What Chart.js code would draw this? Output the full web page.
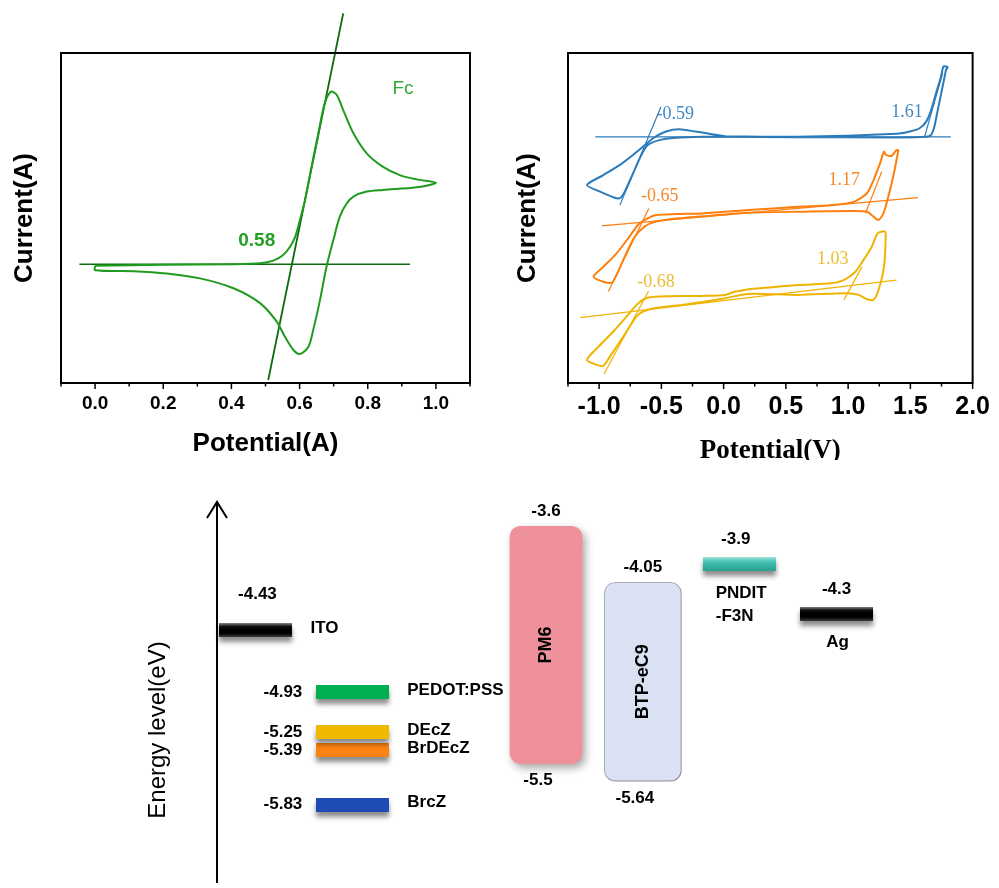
<!DOCTYPE html>
<html>
<head>
<meta charset="utf-8">
<script src="https://cdn.jsdelivr.net/npm/chart.js@4.4.1/dist/chart.umd.min.js"></script>
<style>
html,body{margin:0;padding:0;background:#fff;}
#wrap{position:relative;width:999px;height:888px;overflow:hidden;background:#fff;}
canvas{position:absolute;display:block;}
#fc{left:0;top:0;}
#cv{left:490px;top:0;}
#en{left:0;top:460px;}
</style>
</head>
<body>
<div id="wrap">
<canvas id="fc" width="490" height="460" style="width:490px;height:460px"></canvas>
<canvas id="cv" width="509" height="460" style="width:509px;height:460px"></canvas>
<canvas id="en" width="999" height="428" style="width:999px;height:428px"></canvas>
</div>
<script>
// ================= DATA =================
// Panel 1: ferrocene cyclic voltammogram (potential, arbitrary current units)
const fcPotential = [0, 0.21, 0.406, 0.484, 0.523, 0.552, 0.572, 0.587, 0.601, 0.616, 0.635, 0.655, 0.674, 0.692, 0.709, 0.728, 0.758, 0.797, 0.845, 0.894, 0.943, 1.0,
  0.943, 0.845, 0.797, 0.758, 0.738, 0.718, 0.699, 0.679, 0.660, 0.640, 0.626, 0.601, 0.582, 0.557, 0.533, 0.484, 0.406, 0.308, 0.210, 0.112, 0, 0];
const fcCurrent = [35.5, 35.8, 36.0, 36.3, 37.1, 38.8, 41.3, 44.3, 49.4, 55.5, 65.5, 75.7, 84.8, 88.3, 87.3, 82.7, 75.7, 69.6, 65.5, 63.0, 61.7, 60.7,
  59.3, 58.5, 58.0, 56.5, 54.4, 50.4, 43.3, 35.2, 25.2, 16.1, 11.0, 8.8, 10.0, 14.0, 18.6, 24.2, 28.7, 31.7, 33.2, 33.9, 34.2, 35.5];
const fcBaselinePotential = [-0.046, 0.924];
const fcBaselineCurrent = [36, 36];
const fcTangentPotential = [0.508, 0.728];
const fcTangentCurrent = [0.9, 112];
const fcOnset = 0.58;
const fcTickValues = [0, 0.2, 0.4, 0.6, 0.8, 1.0];

// Panel 2: CV of the three hole-transport materials
const brczPotential = [0.013, 0.595, 1.389, 1.495, 1.574, 1.627, 1.667, 1.706, 1.746, 1.765, 1.786, 1.799, 1.786, 1.759, 1.720, 1.693, 1.667, 1.627, 1.389, 0.595, 0.013,
  -0.172, -0.383, -0.516, -0.609, -0.661, -0.728, -0.794, -0.833, -0.886, -0.992, -1.098, -0.966, -0.833, -0.728, -0.648, -0.569, -0.463, -0.357, -0.225, -0.093, 0.013];
const brczCurrent = [74.8, 74.6, 75.5, 76.2, 77.2, 79.2, 82.7, 87.8, 92.8, 95.9, 95.9, 95.7, 94.8, 89.8, 82.7, 77.7, 75.2, 74.6, 74.4, 74.5, 74.6,
  74.6, 74.3, 73.6, 72.1, 69.1, 63.5, 58.0, 56.0, 56.3, 58.0, 60.0, 63.0, 66.1, 69.1, 71.6, 74.1, 76.2, 76.9, 76.2, 75.4, 74.8];
const brczBaselinePotential = [-1.03, 1.825];
const brczBaselineCurrent = [74.6, 74.6];
const brczRedTangentPotential = [-0.833, -0.503];
const brczRedTangentCurrent = [53.9, 83.7];
const brczOxTangentPotential = [1.614, 1.76];
const brczOxTangentCurrent = [74.6, 94.0];
const brczOnsets = [-0.59, 1.61];

const brdeczPotential = [0.198, 0.595, 0.860, 1.045, 1.151, 1.204, 1.257, 1.288, 1.304, 1.349, 1.384, 1.402, 1.394, 1.362, 1.323, 1.283, 1.244, 1.204, 1.151, 0.992, 0.595, 0.198,
  -0.040, -0.357, -0.542, -0.635, -0.714, -0.794, -0.860, -0.899, -0.966, -1.045, -0.966, -0.860, -0.767, -0.688, -0.609, -0.542, -0.384, -0.172, 0.198];
const brdeczCurrent = [52.4, 53.4, 53.9, 54.9, 57.5, 61.5, 66.6, 70.1, 69.1, 68.8, 70.4, 70.6, 68.6, 62.5, 56.5, 51.4, 49.4, 50.4, 51.9, 52.1, 51.9, 51.6,
  50.9, 49.9, 48.9, 47.4, 44.3, 38.3, 32.7, 30.4, 30.7, 32.2, 35.2, 39.3, 43.8, 47.9, 49.9, 50.9, 51.2, 51.4, 52.4];
const brdeczBaselinePotential = [-0.979, 1.561];
const brdeczBaselineCurrent = [47.6, 56.2];
const brdeczRedTangentPotential = [-0.926, -0.601];
const brdeczRedTangentCurrent = [27.7, 52.9];
const brdeczOxTangentPotential = [1.14, 1.27];
const brdeczOxTangentCurrent = [51.5, 64.0];
const brdeczOnsets = [-0.65, 1.17];

const deczPotential = [0.198, 0.595, 0.860, 0.966, 1.058, 1.124, 1.190, 1.238, 1.296, 1.302, 1.288, 1.244, 1.204, 1.151, 1.085, 0.992, 0.595, 0.198,
  0.013, -0.304, -0.569, -0.648, -0.701, -0.807, -0.913, -0.966, -1.018, -1.098, -0.992, -0.886, -0.780, -0.701, -0.622, -0.516, -0.172, 0.013, 0.093, 0.198];
const deczCurrent = [28.4, 29.7, 30.2, 31.2, 33.7, 37.3, 41.3, 45.4, 45.9, 44.3, 35.2, 28.2, 25.2, 25.4, 26.7, 27.2, 26.7, 27.0,
  25.7, 23.8, 22.6, 21.6, 20.1, 14.0, 8.0, 5.2, 5.5, 7.0, 11.5, 15.6, 20.1, 23.6, 25.7, 26.2, 26.4, 26.7, 27.7, 28.4];
const deczBaselinePotential = [-1.151, 1.389];
const deczBaselineCurrent = [19.8, 31.2];
const deczRedTangentPotential = [-0.960, -0.603];
const deczRedTangentCurrent = [2.7, 27.9];
const deczOxTangentPotential = [0.966, 1.111];
const deczOxTangentCurrent = [25.2, 35.2];
const deczOnsets = [-0.68, 1.03];
const cvTickValues = [-1.0, -0.5, 0.0, 0.5, 1.0, 1.5, 2.0];

// Panel 3: energy level diagram (eV)
const diagramColumns = ['ITO', 'HTL', '', 'PM6', 'BTP-eC9', 'PNDIT-F3N', 'Ag'];
const levelNames = ['ITO', 'PEDOT:PSS', 'DEcZ', 'BrDEcZ', 'BrcZ', 'PNDIT-F3N', 'Ag'];
const levelColumns = ['ITO', 'HTL', 'HTL', 'HTL', 'HTL', 'PNDIT-F3N', 'Ag'];
const levelEnergies = [-4.43, -4.93, -5.25, -5.39, -5.83, -3.9, -4.3];
const boxNames = ['PM6', 'BTP-eC9'];
const boxLUMO = [-3.6, -4.05];
const boxHOMO = [-5.5, -5.64];

// ================= STYLE =================
const SANS = 'Arial, "Liberation Sans", Helvetica, sans-serif';
const SERIF = '"Times New Roman", "Liberation Serif", serif';
Chart.defaults.font.family = SANS;
Chart.defaults.color = '#000';

const pts = (xs, ys) => xs.map((x, i) => ({x: x, y: ys[i]}));
const interp = (xs, ys, x) => ys[0] + (ys[1] - ys[0]) * (x - xs[0]) / (xs[1] - xs[0]);

function lineDs(xs, ys, color, width, extra) {
  return Object.assign({data: pts(xs, ys), showLine: true, borderColor: color, backgroundColor: color,
    borderWidth: width, pointRadius: 0, fill: false, tension: 0}, extra || {});
}

function framePlugin(minorStep) {
  return {
    id: 'frame',
    afterDatasetsDraw(chart) {
      const {ctx, chartArea: a, scales: {x}} = chart;
      ctx.save();
      ctx.strokeStyle = '#000';
      ctx.lineWidth = 2;
      ctx.strokeRect(a.left, a.top, a.right - a.left, a.bottom - a.top);
      ctx.lineWidth = 1.5;
      const n = Math.round((x.max - x.min) / minorStep);
      for (let i = 0; i <= n; i++) {
        const v = x.min + i * minorStep;
        const px = x.getPixelForValue(v);
        const major = x.ticks.some(t => Math.abs(t.value - v) < 1e-6);
        ctx.beginPath();
        ctx.moveTo(px, a.bottom);
        ctx.lineTo(px, a.bottom + (major ? 6 : 3.5));
        ctx.stroke();
      }
      ctx.restore();
    }
  };
}

function txt(ctx, s, x, y, font, align, color) {
  ctx.font = font;
  ctx.fillStyle = color || '#000';
  ctx.textAlign = align || 'center';
  ctx.textBaseline = 'middle';
  ctx.fillText(s, x, y);
}

function axisOpts(min, max, tickVals, tickSize, titleText, titleFont, titlePad, xHeight) {
  return {
    type: 'linear', min: min, max: max,
    afterBuildTicks: s => { s.ticks = tickVals.map(v => ({value: v})); },
    afterFit: s => { s.height = xHeight; },
    grid: {display: false, drawTicks: false},
    border: {display: false},
    ticks: {font: {family: SANS, size: tickSize, weight: 'bold'}, color: '#000', padding: 9,
      maxRotation: 0, autoSkip: false, callback: v => Number(v).toFixed(1)},
    title: {display: true, text: titleText, font: titleFont, color: '#000', padding: titlePad}
  };
}
function yOpts(width, pad) {
  return {
    type: 'linear', min: 0, max: 100,
    afterFit: s => { s.width = width; },
    grid: {display: false, drawTicks: false}, border: {display: false},
    ticks: {display: false},
    title: {display: true, text: 'Current(A)', font: {family: SANS, size: 26, weight: 'bold'}, color: '#000', padding: {top: pad, bottom: 0}}
  };
}
const common = {responsive: false, animation: false, events: [], devicePixelRatio: 1,
  plugins: {legend: {display: false}, tooltip: {enabled: false}}};

// ================= PANEL 1 =================
const FC_CURVE = '#1f9c1f', FC_LINE = '#0d6a0d';
new Chart(document.getElementById('fc'), {
  type: 'scatter',
  data: {datasets: [
    lineDs(fcPotential, fcCurrent, FC_CURVE, 2, {tension: 0.3}),
    lineDs(fcBaselinePotential, fcBaselineCurrent, FC_LINE, 1.6),
    lineDs(fcTangentPotential, fcTangentCurrent, FC_LINE, 1.8, {clip: false})
  ]},
  options: Object.assign({}, common, {
    layout: {padding: {top: 53, right: 20, left: 0, bottom: 0}},
    scales: {
      x: axisOpts(-0.1, 1.1, fcTickValues, 19, 'Potential(A)', {family: SANS, size: 26, weight: 'bold'}, {top: 0, bottom: 1}, 77),
      y: yOpts(61, 9)
    }
  }),
  plugins: [framePlugin(0.1), {
    id: 'fcLabels',
    afterDatasetsDraw(chart) {
      const {ctx, chartArea: a, scales: {x, y}} = chart;
      const px = x.getPixelForValue(fcOnset), py = y.getPixelForValue(interp(fcBaselinePotential, fcBaselineCurrent, fcOnset));
      txt(ctx, fcOnset.toFixed(2), px - 36, py - 23, 'bold 19px ' + SANS, 'center', '#22a022');
      txt(ctx, 'Fc', a.left + 342, a.top + 36, '19px ' + SANS, 'center', '#33aa33');
    }
  }]
});

// ================= PANEL 2 =================
const BLUE = '#2b7bba', ORANGE = '#ff7f0e', GOLD = '#f0b400';
const cvSeries = [
  {c: BLUE, lab: '#3f88c5', loop: [brczPotential, brczCurrent], base: [brczBaselinePotential, brczBaselineCurrent],
    t1: [brczRedTangentPotential, brczRedTangentCurrent], t2: [brczOxTangentPotential, brczOxTangentCurrent], on: brczOnsets,
    off: [[25, -23], [-17, -25]]},
  {c: ORANGE, lab: '#f7882a', loop: [brdeczPotential, brdeczCurrent], base: [brdeczBaselinePotential, brdeczBaselineCurrent],
    t1: [brdeczRedTangentPotential, brdeczRedTangentCurrent], t2: [brdeczOxTangentPotential, brdeczOxTangentCurrent], on: brdeczOnsets,
    off: [[17, -26], [-25, -22]]},
  {c: GOLD, lab: '#e9bd2e', loop: [deczPotential, deczCurrent], base: [deczBaselinePotential, deczBaselineCurrent],
    t1: [deczRedTangentPotential, deczRedTangentCurrent], t2: [deczOxTangentPotential, deczOxTangentCurrent], on: deczOnsets,
    off: [[17, -28], [-19, -26]]}
];
const cvDatasets = [];
cvSeries.forEach(s => {
  cvDatasets.push(lineDs(s.loop[0], s.loop[1], s.c, 2, {tension: 0.25}));
  cvDatasets.push(lineDs(s.base[0], s.base[1], s.c, 1.2));
  cvDatasets.push(lineDs(s.t1[0], s.t1[1], s.c, 1.2));
  cvDatasets.push(lineDs(s.t2[0], s.t2[1], s.c, 1.2));
});
new Chart(document.getElementById('cv'), {
  type: 'scatter',
  data: {datasets: cvDatasets},
  options: Object.assign({}, common, {
    layout: {padding: {top: 53, right: 22, left: 0, bottom: 0}},
    scales: {
      x: axisOpts(-1.25, 2.0, cvTickValues, 25, 'Potential(V)', {family: SERIF, size: 27, weight: 'bold'}, {top: 0, bottom: -7}, 77),
      y: yOpts(78, 22)
    }
  }),
  plugins: [framePlugin(0.25), {
    id: 'cvLabels',
    afterDatasetsDraw(chart) {
      const {ctx, scales: {x, y}} = chart;
      cvSeries.forEach(s => {
        s.on.forEach((v, i) => {
          const px = x.getPixelForValue(v), py = y.getPixelForValue(interp(s.base[0], s.base[1], v));
          txt(ctx, v.toFixed(2), px + s.off[i][0], py + s.off[i][1], '18px ' + SERIF, 'center', s.lab);
        });
      });
    }
  }]
});

// ================= PANEL 3 =================
function levelImage(stops) {
  const c = document.createElement('canvas');
  c.width = 73; c.height = 14;
  const g = c.getContext('2d');
  const grad = g.createLinearGradient(0, 0, 0, 14);
  stops.forEach((col, i) => grad.addColorStop(stops.length > 1 ? i / (stops.length - 1) : 0, col));
  g.fillStyle = grad;
  g.fillRect(0, 0, 73, 14);
  return c;
}
const levelStops = {
  'ITO': ['#8a8a8a', '#111', '#000', '#000', '#3c3c3c'],
  'PEDOT:PSS': ['#00b050', '#00b050'],
  'DEcZ': ['#eeb900', '#eeb900'],
  'BrDEcZ': ['#fa8314', '#fa8314'],
  'BrcZ': ['#1e4bb4', '#1e4bb4'],
  'PNDIT-F3N': ['#a6e6dc', '#4cc6b5', '#33b3a2', '#2a9f90'],
  'Ag': ['#8a8a8a', '#111', '#000', '#000', '#3c3c3c']
};
const boxStyle = {
  'PM6': {bg: '#ee919b', border: '#ee919b', bw: 0, w: 72},
  'BTP-eC9': {bg: '#d9e1f2', border: '#b4b9c6', bw: 1, w: 77}
};
const levelImages = levelNames.map(n => levelImage(levelStops[n]));

const enDatasets = [];
boxNames.forEach((n, i) => {
  const st = boxStyle[n];
  enDatasets.push({type: 'bar', label: n, data: [{x: n, y: [boxLUMO[i], boxHOMO[i]]}],
    backgroundColor: st.bg, borderColor: st.border, borderWidth: st.bw, borderRadius: 11,
    borderSkipped: false, barThickness: st.w, grouped: false});
});
levelNames.forEach((n, i) => {
  enDatasets.push({type: 'line', label: n, data: [{x: levelColumns[i], y: levelEnergies[i]}],
    showLine: false, pointStyle: levelImages[i], pointRadius: 6, pointHoverRadius: 6});
});

const F_VAL = 'bold 17px ' + SANS;
new Chart(document.getElementById('en'), {
  type: 'bar',
  data: {labels: diagramColumns, datasets: enDatasets},
  options: Object.assign({}, common, {
    layout: {padding: {top: 40, right: 114, left: 207, bottom: 0}},
    scales: {
      x: {display: false, offset: true},
      y: {display: false, min: -6.44, max: -3.39}
    }
  }),
  plugins: [{
    id: 'diagram',
    beforeDatasetDraw(chart, args) {
      const ctx = chart.ctx;
      ctx.save();
      if (args.index < boxNames.length) {
        ctx.shadowColor = 'rgba(0,0,0,0.35)'; ctx.shadowBlur = 8; ctx.shadowOffsetX = 3; ctx.shadowOffsetY = 4;
      } else {
        ctx.shadowColor = 'rgba(0,0,0,0.45)'; ctx.shadowBlur = 5; ctx.shadowOffsetX = 0; ctx.shadowOffsetY = 5;
      }
    },
    afterDatasetDraw(chart) { chart.ctx.restore(); },
    afterDraw(chart) {
      const {ctx, chartArea: a, scales: {x, y}} = chart;
      // energy axis arrow
      const ax = a.left + 10, tip = a.top + 2;
      ctx.save();
      ctx.strokeStyle = '#000'; ctx.lineWidth = 2;
      ctx.beginPath(); ctx.moveTo(ax, tip); ctx.lineTo(ax, a.bottom + 2); ctx.stroke();
      ctx.beginPath(); ctx.moveTo(ax - 10, tip + 16); ctx.lineTo(ax, tip); ctx.lineTo(ax + 10, tip + 16); ctx.stroke();
      ctx.translate(a.left - 49, a.top + 230);
      ctx.rotate(-Math.PI / 2);
      txt(ctx, 'Energy level(eV)', 0, 0, '24px ' + SANS, 'center');
      ctx.restore();
      // thin levels
      levelNames.forEach((n, i) => {
        const col = levelColumns[i];
        const cx = x.getPixelForValue(diagramColumns.indexOf(col));
        const cy = y.getPixelForValue(levelEnergies[i]);
        const val = String(levelEnergies[i]);
        if (col === 'ITO') {
          txt(ctx, val, cx + 2, cy - 36, F_VAL);
          txt(ctx, n, cx + 55, cy - 2, F_VAL, 'left');
        } else if (col === 'HTL') {
          txt(ctx, val, cx - 50, cy, F_VAL, 'right');
          txt(ctx, n, cx + 55, cy - 2, F_VAL, 'left');
        } else if (col === 'PNDIT-F3N') {
          txt(ctx, val, cx - 4, cy - 24, F_VAL);
          const parts = n.split('-');
          txt(ctx, parts[0], cx - 24, cy + 30, F_VAL, 'left');
          txt(ctx, '-' + parts[1], cx - 24, cy + 53, F_VAL, 'left');
        } else {
          txt(ctx, val, cx, cy - 24, F_VAL);
          txt(ctx, n, cx + 1, cy + 29, F_VAL);
        }
      });
      // boxes
      boxNames.forEach((n, i) => {
        const cx = x.getPixelForValue(diagramColumns.indexOf(n));
        const top = y.getPixelForValue(boxLUMO[i]), bot = y.getPixelForValue(boxHOMO[i]);
        txt(ctx, String(boxLUMO[i]), cx, top - 15, F_VAL);
        txt(ctx, String(boxHOMO[i]), cx - 8, bot + 17, F_VAL);
        ctx.save();
        ctx.translate(cx, (top + bot) / 2);
        ctx.rotate(-Math.PI / 2);
        txt(ctx, n, 0, 0, 'bold 18px ' + SANS, 'center');
        ctx.restore();
      });
    }
  }]
});
</script>
</body>
</html>
